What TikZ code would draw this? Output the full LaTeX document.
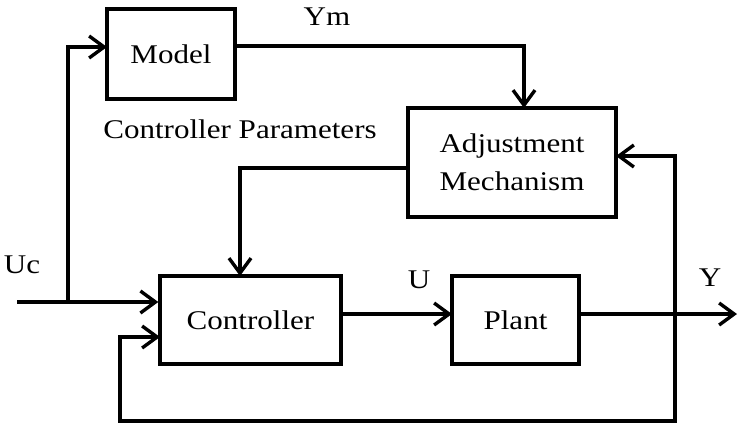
\documentclass[tikz,border=0pt]{standalone}
\usepackage{fontspec}
\setmainfont{Liberation Serif}[FakeStretch=1.15]
\usetikzlibrary{arrows.meta}
\begin{document}
\begin{tikzpicture}[x=1pt,y=-1pt,
  blk/.style={draw,line width=3.4pt,inner sep=0pt,align=center,font=\fontsize{27}{38}\selectfont},
  lbl/.style={inner sep=0pt,font=\fontsize{27}{32}\selectfont},
  wire/.style={line width=3.4pt},
  arr/.style={wire,-{Straight Barb[length=15pt,width=22pt,line width=3.4pt]}}]
\useasboundingbox (0,0) rectangle (738,424);
\node[blk,minimum width=128pt,minimum height=90pt] (model) at (171,54) {Model};
\node[blk,minimum width=208pt,minimum height=109pt] (adj) at (512,162.5) {Adjustment\\Mechanism};
\node[blk,minimum width=181pt,minimum height=88pt] (ctrl) at (250.5,320) {Controller};
\node[blk,minimum width=127pt,minimum height=88pt] (plant) at (515.5,320) {Plant};
\node[lbl] (ym) at (327,17) {Ym};
\node[lbl] (cp) at (240,129) {Controller Parameters};
\node[lbl] (uc) at (22,265) {Uc};
\node[lbl] (u) at (419,280) {U};
\node[lbl] (y) at (710,278) {Y};
\coordinate (in) at (17,302);
\coordinate (j) at (68,302);
\coordinate (mi) at (107,47);
\coordinate (mo) at (235,46);
\coordinate (at) at (524,108);
\coordinate (ao) at (408,168);
\coordinate (ct) at (240,276);
\coordinate (ai) at (616,156);
\coordinate (co) at (341,314);
\coordinate (pi) at (452,314);
\coordinate (po) at (579,314);
\coordinate (out) at (737,314);
\coordinate (fb) at (675,314);
\coordinate (ci) at (160,337);
\draw[arr] (in) -- (ctrl.west |- in);
\draw[arr] (j) |- (mi);
\draw[arr] (mo) -| (at);
\draw[arr] (ao) -| (ct);
\draw[arr] (co) -- (pi);
\draw[arr] (po) -- (out);
\draw[arr] (fb) |- (ai);
\draw[arr] (fb) -- (675,421) -| (120,337) -- (ci);
\end{tikzpicture}
\end{document}
